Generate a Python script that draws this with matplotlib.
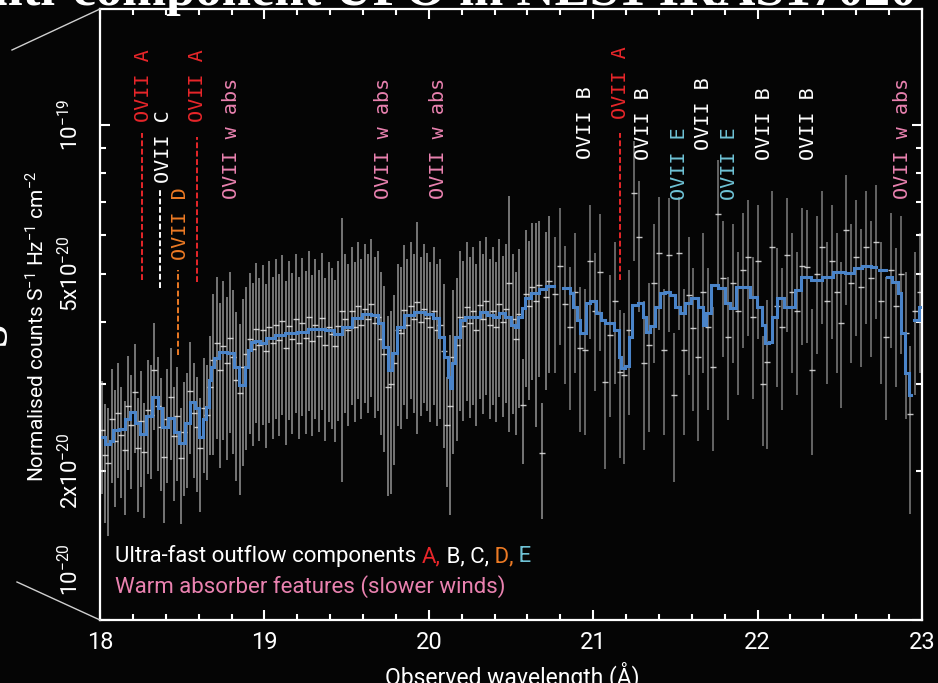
import numpy as np
import matplotlib
matplotlib.use("Agg")
import matplotlib.pyplot as plt
from matplotlib import font_manager
from matplotlib.lines import Line2D
from matplotlib.ticker import FixedLocator, FixedFormatter, MultipleLocator

# ---------------------------------------------------------------- data
# fluxes in units of 1e-20 counts s^-1 Hz^-1 cm^-2, wavelengths in Angstrom

# two-instrument part of the spectrum, 0.02 A bins from 18.01 A
dense_wave = np.round(np.arange(18.01, 20.74, 0.02), 3)
dense_flux = [
    2.42, 2.15, 2.08, 2.55, 2.30, 2.62, 2.36, 2.20, 2.71, 2.48,
    2.89, 2.23, 2.52, 2.18, 2.66, 2.60, 3.20, 2.70, 2.45, 2.13,
    2.55, 2.82, 2.35, 2.58, 2.12, 2.40, 2.50, 2.90, 2.62, 2.45,
    2.23, 2.68, 2.60, 2.95, 3.35, 3.62, 3.20, 3.58, 3.30, 3.72,
    3.40, 3.05, 2.88, 3.25, 3.45, 3.70, 3.52, 3.88, 3.60, 3.85,
    3.50, 3.90, 3.62, 3.95, 3.68, 4.02, 3.55, 3.92, 3.70, 4.05,
    3.62, 3.98, 3.72, 4.10, 3.66, 3.95, 3.75, 4.08, 3.60, 3.90,
    3.78, 3.58, 3.92, 4.20, 4.05, 3.85, 4.20, 3.90, 4.30, 3.95,
    4.25, 4.05, 4.35, 3.98, 4.10, 3.70, 3.45, 2.95, 3.00, 3.30,
    3.85, 3.80, 4.22, 3.95, 4.30, 4.05, 4.38, 4.00, 4.25, 4.08,
    3.90, 4.20, 3.85, 3.95, 3.50, 2.48, 2.70, 3.40, 3.60, 4.10,
    3.92, 4.28, 3.98, 4.20, 3.85, 4.32, 4.05, 4.40, 3.95, 4.20,
    3.90, 4.35, 4.00, 4.25, 4.80, 4.05, 3.70, 4.15, 2.72, 4.55,
    4.30, 4.70, 4.40, 4.75, 2.17, 4.50, 4.85,
]
dense_err = [
    0.62, 0.58, 0.60, 0.66, 0.61, 0.68, 0.60, 0.57, 0.70, 0.64,
    0.72, 0.58, 0.66, 0.57, 0.69, 0.67, 0.78, 0.70, 0.63, 0.56,
    0.66, 0.72, 0.61, 0.67, 0.56, 0.62, 0.65, 0.74, 0.68, 0.64,
    0.58, 0.70, 0.68, 0.80, 1.20, 1.30, 1.17, 1.27, 1.20, 1.33,
    1.24, 1.14, 1.09, 1.20, 1.25, 1.33, 1.27, 1.38, 1.30, 1.37,
    1.27, 1.40, 1.30, 1.40, 1.33, 1.43, 1.29, 1.39, 1.33, 1.43,
    1.30, 1.40, 1.34, 1.46, 1.31, 1.40, 1.35, 1.43, 1.30, 1.39,
    1.35, 1.29, 1.40, 2.30, 1.43, 1.38, 1.48, 1.39, 1.51, 1.40,
    1.50, 1.43, 1.53, 1.42, 1.46, 1.34, 1.27, 1.17, 1.20, 1.24,
    1.38, 1.37, 1.50, 1.40, 1.51, 1.43, 2.00, 1.42, 1.50, 1.44,
    1.39, 1.48, 1.38, 1.40, 1.27, 0.62, 1.07, 1.24, 1.30, 1.46,
    1.40, 1.51, 1.42, 1.48, 1.38, 1.52, 1.44, 1.55, 1.40, 1.48,
    1.39, 1.53, 1.43, 1.50, 2.40, 1.44, 1.34, 1.47, 0.65, 1.59,
    1.52, 1.64, 1.95, 1.66, 0.57, 1.59, 1.69,
]

# single-instrument part, 0.03 A bins from 20.77 A
sparse_wave = np.round(np.arange(20.77, 23.0, 0.03), 3)
sparse_flux = [
    4.55, 5.20, 4.35, 3.91, 4.60, 3.55, 3.51, 5.30, 4.20, 5.05,
    3.02, 3.77, 4.40, 3.17, 3.12, 3.85, 7.30, 5.94, 3.30, 3.60,
    4.80, 5.50, 3.51, 5.47, 2.85, 5.50, 3.51, 4.53, 3.89, 3.40,
    4.60, 3.90, 3.24, 6.60, 4.90, 3.73, 4.80, 4.20, 5.10, 5.40,
    4.10, 5.30, 3.00, 3.32, 5.67, 4.30, 3.90, 5.46, 4.60, 4.20,
    5.20, 5.17, 3.20, 5.00, 5.67, 4.40, 5.30, 4.60, 3.98, 6.13,
    4.80, 5.40, 4.70, 5.67, 4.90, 5.80, 4.40, 3.73, 5.10, 4.30,
    5.00, 3.80, 2.61, 4.20, 4.60,
]
sparse_err = [
    1.40, 1.60, 1.35, 1.25, 1.45, 1.15, 1.15, 1.60, 1.30, 1.55,
    1.00, 1.20, 1.40, 1.05, 1.05, 1.25, 2.00, 1.75, 1.10, 1.20,
    1.50, 1.65, 1.15, 1.65, 0.95, 1.65, 1.15, 1.40, 1.25, 1.10,
    1.45, 1.25, 1.05, 1.90, 1.50, 1.20, 1.50, 1.35, 1.55, 1.65,
    1.30, 1.60, 0.75, 1.10, 1.70, 1.35, 1.25, 1.65, 1.45, 1.35,
    1.60, 1.55, 1.05, 1.55, 1.70, 1.40, 1.60, 1.45, 1.30, 1.80,
    1.50, 1.65, 1.45, 1.70, 1.50, 1.75, 1.40, 1.20, 1.55, 1.35,
    1.55, 1.25, 0.97, 1.35, 1.45,
]

# best-fitting absorption model (NaN = gaps in coverage)
model_wave = [
    18.012, 18.049, 18.070, 18.091, 18.140, 18.170, 18.201, 18.230, 18.262, 18.300,
    18.335, 18.365, 18.395, 18.432, 18.465, 18.499, 18.530, 18.560, 18.590, 18.614,
    18.635, 18.651, 18.669, 18.685, 18.700, 18.742, 18.803, 18.833, 18.864, 18.894,
    18.912, 18.931, 18.960, 18.991, 19.034, 19.100, 19.156, 19.235, 19.296, 19.338,
    19.399, 19.448, 19.502, 19.563, 19.624, 19.673, 19.703, 19.734, 19.764, 19.794,
    19.825, 19.873, 19.946, 20.007, 20.050, 20.080, 20.105, 20.123, 20.135, 20.147,
    20.172, 20.202, 20.238, 20.293, 20.330, 20.372, 20.403, 20.445, 20.482, 20.512,
    20.536, 20.555, 20.573, 20.603, 20.646, 20.689, 20.737, 20.790,
    20.841, 20.871, 20.889, 20.908, 20.926, 20.950, 20.968, 20.990, 21.011, 21.029,
    21.060, 21.084, 21.114, 21.145, 21.163, 21.181, 21.206, 21.224, 21.254, 21.285,
    21.315, 21.333, 21.364, 21.388, 21.425, 21.449, 21.485, 21.516, 21.546, 21.576,
    21.619, 21.650, 21.680, 21.698, 21.741, 21.783, 21.820, 21.850, 21.893, 21.935,
    21.972, 22.015, 22.033, 22.057, 22.082, 22.094, 22.148, 22.179, 22.209, 22.240,
    22.288, 22.361, 22.422, 22.501, 22.562, 22.611, 22.665, 22.714, 22.730,
    22.745, 22.775, 22.783,
    22.793, 22.836, 22.866, 22.884, 22.909, 22.927, 22.940,
    22.964, 23.000,
]
model_flux = [
    2.34, 2.27, 2.30, 2.42, 2.43, 2.55, 2.63, 2.50, 2.37, 2.58,
    2.82, 2.68, 2.45, 2.56, 2.40, 2.28, 2.50, 2.76, 2.68, 2.34,
    2.55, 2.69, 3.05, 3.25, 3.38, 3.48, 3.46, 3.24, 2.98, 3.24,
    3.51, 3.64, 3.66, 3.63, 3.71, 3.77, 3.80, 3.82, 3.87, 3.87,
    3.85, 3.78, 3.91, 4.07, 4.15, 4.13, 3.98, 3.56, 3.20, 3.46,
    3.91, 4.13, 4.19, 4.15, 4.07, 3.73, 3.40, 3.10, 2.94, 3.30,
    3.73, 4.04, 4.09, 4.09, 4.19, 4.13, 4.09, 4.17, 4.09, 3.95,
    3.91, 4.09, 4.27, 4.47, 4.58, 4.66, 4.73, np.nan,
    4.69, 4.58, 4.29, 4.04, 3.80, 3.80, 4.37, 4.41, 4.41, 4.17,
    4.04, 3.98, 3.98, 3.85, 3.40, 3.23, 3.26, 3.73, 4.33, 4.37,
    4.09, 3.82, 3.93, 4.29, 4.58, 4.60, 4.54, 4.29, 4.17, 4.37,
    4.47, 4.29, 3.95, 4.17, 4.75, 4.69, 4.37, 4.27, 4.71, 4.71,
    4.49, 4.29, 3.95, 3.63, 3.64, 4.09, 4.47, 4.29, 4.29, 4.64,
    4.93, 4.86, 4.93, 5.05, 5.02, 5.14, 5.19, 5.17, np.nan,
    5.09, 5.09, np.nan,
    4.93, 4.82, 4.58, 3.80, 3.16, 2.85, np.nan,
    4.04, 4.29,
]

# line identifications
ann_text = ["OVII A", "OVII C", "OVII D", "OVII A", "OVII w abs", "OVII w abs",
            "OVII w abs", "OVII B", "OVII A", "OVII B", "OVII E", "OVII B",
            "OVII E", "OVII B", "OVII B", "OVII w abs"]
ann_wave = [18.262, 18.389, 18.487, 18.596, 18.797, 19.727, 20.062, 20.956,
            21.169, 21.309, 21.522, 21.668, 21.832, 22.039, 22.307, 22.884]
ann_kind = ["A", "C", "D", "A", "W", "W", "W", "B", "A", "B", "E", "B", "E",
            "B", "B", "W"]
ann_base = [10.14, 7.63, 5.33, 10.14, 7.10, 7.10, 7.10, 8.54, 10.28, 8.50,
            7.05, 8.91, 7.05, 8.50, 8.50, 7.10]

# dashed markers below some identifications
mark_wave = [18.255, 18.365, 18.474, 18.590, 21.163]
mark_top = [9.64, 7.39, 5.10, 9.45, 9.64]
mark_bottom = [4.86, 4.69, 3.43, 4.82, 4.86]
mark_kind = ["A", "C", "D", "A", "A"]

# axis ticks
x_major = [18, 19, 20, 21, 22, 23]
x_labels = ["18", "19", "20", "21", "22", "23"]
y_major = [1, 10]
y_major_labels = ["", r"$10^{-19}$"]
y_minor = [2, 3, 4, 5, 6, 7, 8, 9]
y_minor_labels = [r"2x$10^{-20}$", "", "", r"5x$10^{-20}$", "", "", "", ""]

# ---------------------------------------------------------------- style
W, H = 938, 683
BG = "#050505"
COL = {"A": "#e8262a", "B": "#ffffff", "C": "#ffffff", "D": "#ec7a24",
       "E": "#6fc3d6", "W": "#ea82b0"}

names = {f.name for f in font_manager.fontManager.ttflist}
SANS = "Roboto" if "Roboto" in names else "DejaVu Sans"
SERIF = "Liberation Serif" if "Liberation Serif" in names else "DejaVu Serif"
MONO = "DejaVu Sans Mono"

plt.rcParams["font.family"] = [SANS, "DejaVu Sans"]
plt.rcParams["mathtext.fontset"] = "custom"
plt.rcParams["mathtext.rm"] = SANS
plt.rcParams["mathtext.it"] = SANS
plt.rcParams["mathtext.bf"] = SANS
plt.rcParams["mathtext.default"] = "regular"

fig = plt.figure(figsize=(W / 100, H / 100), dpi=100, facecolor=BG)
ax = fig.add_axes([100 / W, 63 / H, 822 / W, 611 / H], facecolor=BG)
ax.set_yscale("log")
ax.set_xlim(18, 23)
ax.set_ylim(1.0, 17.15)

# data points with error bars
for wv, fl, er, a in ((dense_wave, dense_flux, dense_err, 0.7),
                      (sparse_wave, sparse_flux, sparse_err, 0.6)):
    ax.errorbar(wv, fl, yerr=er, fmt="none", ecolor="#cfcfcf",
                elinewidth=1.1, alpha=a, zorder=2)
    ax.plot(wv, fl, ls="none", marker="_", ms=4, mew=1.0,
            color="#e6e6e6", alpha=0.85, zorder=2.5)

# model
ax.plot(model_wave, model_flux, drawstyle="steps-mid", color="#4a84c9",
        lw=2.2, zorder=3, solid_joinstyle="miter")

# identifications
for t, wv, k, b in zip(ann_text, ann_wave, ann_kind, ann_base):
    ax.text(wv, b, t, rotation=90, ha="center", va="bottom", color=COL[k],
            family=MONO, fontsize=14.5, zorder=4)
for wv, top, bot, k in zip(mark_wave, mark_top, mark_bottom, mark_kind):
    ax.plot([wv, wv], [bot, top], color=COL[k], lw=1.4,
            ls=(0, (3.0, 1.3)), zorder=4)

# axes styling
for sp in ax.spines.values():
    sp.set_color("white")
    sp.set_linewidth(1.6)

ax.xaxis.set_major_locator(FixedLocator(x_major))
ax.xaxis.set_major_formatter(FixedFormatter(x_labels))
ax.xaxis.set_minor_locator(MultipleLocator(0.2))
ax.yaxis.set_major_locator(FixedLocator(y_major))
ax.yaxis.set_major_formatter(FixedFormatter(y_major_labels))
ax.yaxis.set_minor_locator(FixedLocator(y_minor))
ax.yaxis.set_minor_formatter(FixedFormatter(y_minor_labels))

ax.tick_params(which="both", direction="in", colors="white", top=True,
               right=True, width=1.5)
ax.tick_params(which="major", length=7.5)
ax.tick_params(which="minor", length=4.5)
ax.tick_params(axis="x", which="both", labelsize=17, pad=8)
ax.tick_params(axis="y", which="both", labelsize=16, pad=12, labelrotation=90)
for lab in ax.get_yticklabels(which="both"):
    lab.set_va("center")

ax.annotate(r"$10^{-20}$", xy=(0, 1), xycoords=("axes fraction", "data"),
            xytext=(-17, 50), textcoords="offset pixels", rotation=90,
            ha="right", va="center", color="white", fontsize=16)

ax.set_xlabel("Observed wavelength (Å)", color="white", fontsize=16.5)
ax.xaxis.set_label_coords(0.502, -0.068)
ax.set_ylabel(r"Normalised counts S$^{-1}$ Hz$^{-1}$ cm$^{-2}$",
              color="white", fontsize=15)
ax.yaxis.set_label_coords(-0.063, 0.48)

# key text in the lower left
renderer = fig.canvas.get_renderer()


def colored_line(x_px, base_px, parts, size):
    full = ""
    for s, c in parts:
        full += s
        probe_all = fig.text(0, 0, full, fontsize=size)
        probe_part = fig.text(0, 0, s, fontsize=size)
        w_all = probe_all.get_window_extent(renderer).width
        w_part = probe_part.get_window_extent(renderer).width
        probe_all.remove()
        probe_part.remove()
        fig.text((x_px + w_all - w_part) / W, 1 - base_px / H, s, color=c,
                 fontsize=size, ha="left", va="baseline")


colored_line(115, 562, [("Ultra-fast outflow components ", "white"),
                        ("A,", COL["A"]), (" B, C,", "white"),
                        (" D,", COL["D"]), (" E", COL["E"])], 16)
colored_line(115, 593, [("Warm absorber features (slower winds)", COL["W"])],
             16)

# heading above the panel, partly outside the canvas
fig.text(916 / W, 1 - 5 / H, "Multi-component UFO in NLS1 IRAS17020",
         family=SERIF, weight="bold", fontsize=38, color="white",
         ha="right", va="baseline")
# edge of the side heading, mostly outside the canvas
fig.text(-4 / W, 1 - 333 / H, "S", family=SERIF, weight="bold", fontsize=30,
         color="white", rotation=90, ha="center", va="center")

# zoom connector lines toward the panel corners
fig.add_artist(Line2D([12 / W, 100 / W], [1 - 50 / H, 1 - 9 / H],
                      transform=fig.transFigure, color="#d0d0d0", lw=1.0))
fig.add_artist(Line2D([17 / W, 100 / W], [1 - 582 / H, 1 - 620 / H],
                      transform=fig.transFigure, color="#d0d0d0", lw=1.0))

fig.savefig("out.png", dpi=100, facecolor=BG)
